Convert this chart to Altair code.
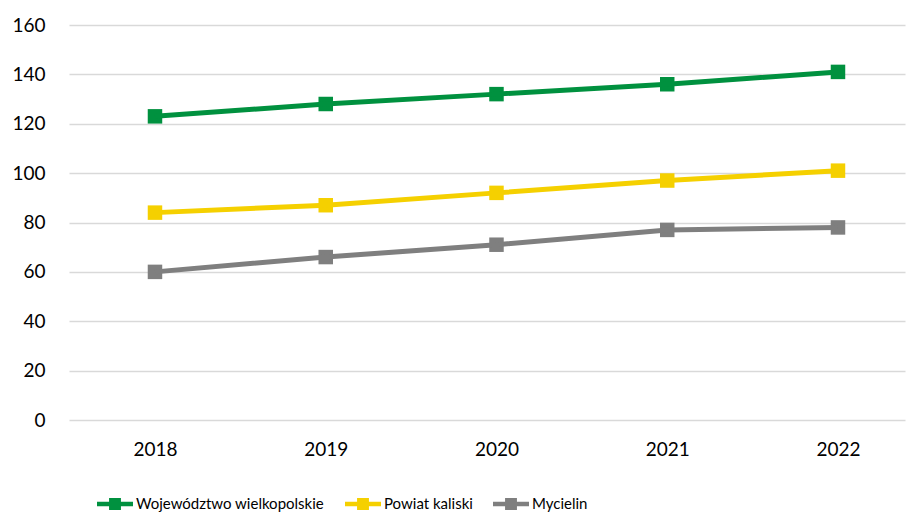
import altair as alt
import pandas as pd

years = ["2018", "2019", "2020", "2021", "2022"]
series_names = ["Województwo wielkopolskie", "Powiat kaliski", "Mycielin"]
woj = [123, 128, 132, 136, 141]
powiat = [84, 87, 92, 97, 101]
mycielin = [60, 66, 71, 77, 78]
colors = ["#00913F", "#F5D000", "#7F7F7F"]

rows = []
for name, vals in zip(series_names, [woj, powiat, mycielin]):
    for y, v in zip(years, vals):
        rows.append({"Rok": y, "Seria": name, "Wartość": v})
df = pd.DataFrame(rows)

FONT = "Lato"

legend_path = ("M-1,-0.13 L1,-0.13 L1,0.13 L-1,0.13 Z "
               "M-0.33,-0.33 L0.33,-0.33 L0.33,0.33 L-0.33,0.33 Z")

color = alt.Color(
    "Seria:N",
    scale=alt.Scale(domain=series_names, range=colors),
    sort=series_names,
    legend=alt.Legend(
        title=None,
        orient="none",
        legendX=28,
        legendY=461,
        direction="horizontal",
        symbolType=legend_path,
        symbolSize=1296,
        symbolStrokeWidth=0,
        symbolOpacity=1,
        labelFont=FONT,
        labelFontSize=15,
        labelColor="#000000",
        labelOffset=3,
        labelLimit=0,
        columnPadding=20,
    ),
)

x = alt.X("Rok:O", sort=years, scale=alt.Scale(padding=0.448, align=0.562),
          axis=alt.Axis(title=None, labelAngle=0, ticks=False, domain=False,
                        labelFont=FONT, labelFontSize=19, labelColor="#000000",
                        labelPadding=20, grid=False))
y = alt.Y("Wartość:Q", scale=alt.Scale(domain=[0, 160], nice=False),
          axis=alt.Axis(title=None, values=list(range(0, 161, 20)), ticks=False,
                        domain=False, labelFont=FONT, labelFontSize=19,
                        labelColor="#000000", labelPadding=24,
                        gridColor="#D9D9D9", gridWidth=1.5))

base = alt.Chart(df).encode(x=x, y=y, color=color)
lines = base.mark_line(strokeWidth=5)
points = base.mark_point(shape="square", size=210, filled=True, opacity=1)

chart = alt.layer(points, lines).properties(
    width=836, height=395,
    background="white",
    autosize=alt.AutoSizeParams(type="none"),
    padding={"left": 69, "top": 25, "right": 4, "bottom": 94},
).configure_view(strokeWidth=0, stroke="transparent")

chart.save("out.html", embed_options={"renderer": "svg", "actions": False})
